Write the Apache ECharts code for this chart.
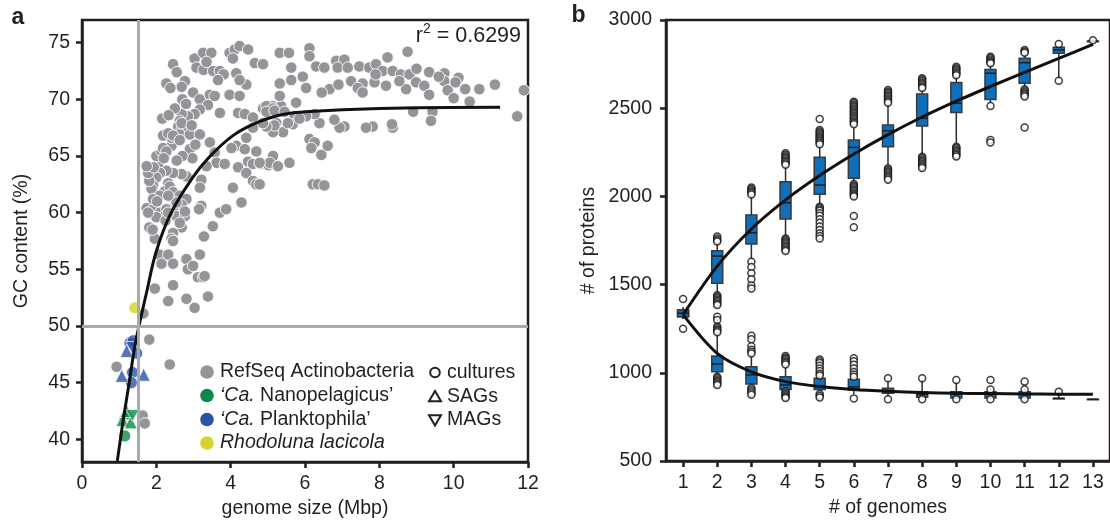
<!DOCTYPE html>
<html><head><meta charset="utf-8">
<script src="https://cdn.jsdelivr.net/npm/echarts@6/dist/echarts.min.js"></script>
<style>html,body{margin:0;padding:0;background:#fff}#c{width:1110px;height:528px}</style>
</head><body><div id="c"></div>
<script>
// ---------- Panel a data ----------
const refseqPoints = [
[2.45,73.1],[3.03,73.6],[3.26,74.1],[3.48,74.1],[3.08,72.8],[3.27,72.6],[3.53,72.5],[3.71,72.5],[3.81,72.2],[3.66,71.7],
[3.97,74.1],[4.11,74.4],[4.24,74.7],[4.47,74.4],[4.65,73.2],[4.87,73.1],[4.06,73.6],[4.42,71.3],[4.15,72.3],[4.24,71.7],
[2.77,71.6],[2.68,71.1],[2.99,70.6],[3.17,70.0],[3.44,70.4],[3.57,70.3],[3.39,69.5],[3.17,69.1],[3.03,68.7],[2.85,68.5],
[2.68,68.7],[2.63,68.1],[2.59,67.6],[2.68,67.3],[2.63,66.9],[2.90,66.9],[3.17,66.9],[3.71,68.8],[3.97,70.4],[4.24,70.3],
[4.20,68.8],[4.38,68.7],[4.60,68.4],[4.87,69.2],[5.14,69.4],[5.23,67.9],[4.96,67.6],[4.60,67.5],[4.42,66.6],[4.15,65.9],
[4.02,65.7],[4.38,65.6],[4.69,65.4],[4.47,64.5],[4.60,64.3],[4.80,64.3],[5.02,64.2],[5.23,64.2],[4.20,64.0],[4.42,63.5],
[4.60,62.8],[4.69,62.5],[4.29,60.9],[4.06,62.2],[3.44,66.2],[3.57,65.3],[3.21,62.9],[3.17,62.2],[3.21,60.6],[3.62,64.4],
[3.84,64.3],[3.35,64.1],[2.81,63.2],[2.68,63.4],[2.45,63.5],[2.27,63.7],[2.32,62.6],[2.23,61.9],[2.36,62.3],[2.45,61.8],
[2.63,61.5],[2.81,61.2],[2.68,60.7],[2.45,60.3],[2.54,59.7],[2.68,58.7],[2.45,58.2],[2.41,57.7],[2.77,59.7],[2.63,59.1],
[2.05,64.3],[2.10,63.5],[2.00,63.1],[1.91,62.4],[1.87,62.1],[1.81,62.8],[1.78,63.5],[2.00,65.0],[2.14,65.4],[2.41,65.9],
[2.41,66.6],[2.18,66.8],[2.32,67.0],[2.68,67.9],[2.16,68.3],[1.74,60.4],[1.91,60.3],[2.10,60.0],[2.27,60.3],[2.23,59.7],
[2.00,59.6],[1.87,58.5],[1.96,57.7],[2.45,57.5],[2.25,59.3],[2.32,60.0],[2.54,60.9],[2.77,60.1],[3.15,60.3],[3.28,57.9],
[3.52,58.8],[3.71,60.0],[3.88,60.3],[2.90,65.6],[2.97,64.8],[2.70,65.0],[2.27,71.4],[2.70,70.0],[1.93,64.0],[1.74,64.1],
[2.18,65.7],[2.27,65.4],[2.09,61.5],[2.32,61.5],[1.91,61.2],[1.78,60.0],[1.81,58.7],[1.90,58.5],[2.45,66.8],[2.63,66.4],
[2.08,56.3],[2.32,56.3],[2.14,55.5],[2.45,55.5],[2.81,55.9],[3.17,56.3],[2.85,55.0],[2.99,55.3],[3.12,54.3],[3.26,54.3],
[3.30,54.4],[2.45,53.6],[1.96,53.3],[2.32,52.2],[2.81,52.4],[3.03,51.6],[3.39,52.6],[1.65,51.1],[1.81,48.8],[0.93,46.4],
[2.36,46.6],[1.63,42.1],[1.69,41.4],
[5.32,74.1],[5.57,74.1],[6.12,74.5],[6.12,73.8],[6.30,72.9],[6.52,72.8],[6.84,73.4],[7.06,73.5],[6.88,72.8],[7.15,72.8],
[7.46,72.9],[7.73,72.8],[7.91,73.1],[8.22,73.7],[8.76,74.2],[8.09,72.5],[8.36,72.5],[8.58,72.2],[8.81,72.2],[9.34,72.4],
[9.75,72.3],[10.13,71.9],[8.99,71.5],[9.21,71.2],[9.34,70.4],[8.72,70.9],[8.54,71.6],[8.18,71.2],[7.87,71.5],[7.55,71.4],
[7.24,71.6],[7.42,71.0],[7.55,70.6],[6.66,70.9],[6.03,71.0],[5.94,72.0],[5.63,71.7],[5.32,71.4],[5.63,72.8],[4.87,73.1],
[9.75,71.6],[9.84,70.8],[10.0,70.1],[10.31,70.9],[10.69,70.9],[11.11,71.3],[10.43,69.8],[11.89,70.8],[11.71,68.5],[8.91,68.9],
[9.43,68.9],[9.39,68.1],[8.36,67.5],[8.34,67.8],[7.82,67.6],[7.64,67.5],[7.06,67.6],[6.93,67.5],[6.79,68.2],[6.39,67.9],
[6.26,68.7],[6.03,68.5],[5.72,68.5],[5.67,67.8],[5.41,67.1],[5.14,67.1],[5.18,67.7],[4.96,67.6],[5.36,69.4],[5.76,69.7],
[5.32,70.3],[4.96,69.4],[5.14,69.2],[6.12,66.5],[6.26,66.2],[6.17,65.7],[6.44,65.1],[6.61,65.9],[5.14,65.0],[5.05,64.4],
[5.27,64.1],[5.58,64.4],[4.78,64.4],[6.21,62.5],[6.35,62.5],[6.52,62.4],[4.78,62.5],[4.96,68.9],[5.18,69.0],[5.45,68.9],
[4.87,67.9],[5.54,67.9],[5.85,68.3],[6.45,70.6],[6.9,71.3],[7.9,72.2],[9.0,72.7],[9.6,72.0],[10.05,71.5],[3.35,73.3],
[2.55,72.4],[2.38,71.0],[2.50,69.2],[2.33,68.6],[2.80,69.6],[2.95,67.7],[3.05,66.0],[2.20,64.8],[2.55,64.6],[2.02,61.0]
];
const nanoCultures = [[1.15,40.3]];
const nanoSAGs = [[1.15,42.3],[1.09,41.7],[1.31,41.5],[1.20,42.5]];
const nanoMAGs = [[1.36,42.1]];
const plankCultures = [[1.29,48.5],[1.38,48.7],[1.47,47.6],[1.36,45.9],[1.33,45.0]];
const plankSAGs = [[1.20,47.8],[1.07,45.6],[1.66,45.7]];
const plankMAGs = [[1.35,48.1]];
const rhodolunaCultures = [[1.42,51.6]];
const fitX = [0.95,1.1,1.27,1.41,1.54,1.74,2.0,2.4,3.0,3.45,4.06,4.6,5.3,6.0,8.0,11.25];
const fitY = [38.1,41.5,45.0,48.0,50.1,53.0,56.6,60.0,63.2,65.0,66.8,67.8,68.6,68.9,69.2,69.3];
const gcTicks = [40,45,50,55,60,65,70,75];
const refGenomeSize = 1.5, refGC = 50;

// ---------- Panel b data ----------
const genomeCounts = ['1','2','3','4','5','6','7','8','9','10','11','12','13'];
// [low whisker, Q1, median, Q3, high whisker]
const panBoxes = [
[1305,1318,1338,1356,1370],[1450,1507,1662,1692,1736],[1643,1730,1794,1894,1998],[1772,1872,1964,2083,2168],
[1951,2012,2065,2222,2291],[2074,2103,2278,2320,2386],[2168,2282,2373,2405,2518],[2235,2399,2443,2580,2603],
[2282,2475,2528,2645,2675],[2530,2550,2698,2720,2745],[2613,2641,2758,2783,2811],[2665,2811,2830,2845,2850],
[2880,2880,2880,2880,2880]];
const panOutliers = [
[1418,1250],
[1772,1762,1752,1744,1440,1432,1424,1416,1408,1400,1392,1384],
[2051,2043,2035,2027,2019,2011,1630,1600,1565,1530,1495,1478],
[2244,2236,2228,2220,2212,2204,2196,2188,2180,1762,1754,1746,1738,1730,1722,1714,1706,1698,1690],
[2439,2376,2368,2360,2352,2344,2336,2328,2320,2312,2304,2296,1942,1934,1926,1918,1905,1890,1870,1850,1830,1810,1790,1775,1762],
[2537,2529,2521,2513,2505,2497,2489,2481,2473,2465,2457,2449,2441,2433,2425,2417,2409,2070,2062,2054,2046,2038,2030,2022,2014,2006,2000,1889,1825],
[2603,2595,2587,2579,2571,2563,2555,2547,2539,2531,2159,2151,2143,2135,2127,2119,2111,2103,2095],
[2670,2662,2654,2646,2638,2630,2622,2614,2225,2217,2209,2201,2193,2185,2177,2169,2161],
[2735,2727,2719,2711,2703,2695,2687,2282,2274,2266,2258,2250,2242,2234,2226],
[2792,2784,2776,2768,2760,2755,2512,2320,2305],
[2830,2822,2814,2607,2599,2591,2583,2575,2567,2390],
[2864,2655],
[2885]];
const coreBoxes = [
[1305,1318,1338,1356,1370],[987,1006,1050,1095,1224],[921,937,988,1035,1101],[900,906,931,978,1044],
[895,906,925,969,990],[880,902,920,963,975],[870,884,899,912,960],[855,861,878,893,960],
[855,857,880,893,950],[855,857,880,893,910],[855,857,880,893,910],[855,855,855,855,890],[850,850,850,850,850]];
const coreOutliers = [
[],
[1318,1300,1262,1254,1246,1238,1230,978,970,962,954,946,938,931],
[1210,1190,1150,1130,1120,1110,915,905,895,885,875],
[1095,1087,1079,1071,1063,1055,1047,895,887,879,871,863,857],
[1075,1065,1055,1040,1025,1010,995,985,880,870,860],
[1082,1065,1045,1025,1005,990,978,855],
[969,850],[969,850],[959,850],[959,905,850],[950,905,850],[893],[]];
const panFit = [1330,1605,1815,1980,2118,2240,2350,2450,2540,2623,2703,2782,2862];
const coreFit = [1330,1110,1005,950,922,905,895,888,884,882,880,879,878];

// ---------- styling ----------
const FONT = 'Liberation Sans, Arial, Helvetica, sans-serif';
const INK = '#231f20';
const FS = 19.5;
const GRAY = '#939598', GREEN = '#0c8a47', BLUE = '#2a53a6', YELLOW = '#d3d52c', BOXBLUE = '#0f6fbb';
const DOWN_TRI = 'path://M0,0L10,0L5,8.66Z';

function axisCommon(){
  return {
    axisLine:{show:true,onZero:false,lineStyle:{color:INK,width:2.5}},
    axisTick:{show:true,inside:false,length:6,lineStyle:{color:INK,width:2.5}},
    axisLabel:{color:INK,fontSize:FS,fontFamily:FONT},
    splitLine:{show:false},
    nameTextStyle:{color:INK,fontSize:FS,fontFamily:FONT}
  };
}
function merge(a,b){
  const o = Object.assign({},a);
  for (const k in b){ o[k] = (typeof b[k]==='object' && !Array.isArray(b[k]) && a[k]) ? Object.assign({},a[k],b[k]) : b[k]; }
  return o;
}

function grpData(arrC, arrS, arrM){
  const out = [];
  arrC.forEach(p=>out.push({value:p,symbol:'circle',symbolSize:12}));
  arrS.forEach(p=>out.push({value:p,symbol:'triangle',symbolSize:13}));
  arrM.forEach(p=>out.push({value:p,symbol:DOWN_TRI,symbolSize:[13,12]}));
  return out;
}

function boxRender(params, api){
  const i = api.value(0);
  const lo = api.coord([i, api.value(1)]);
  const q1 = api.coord([i, api.value(2)]);
  const md = api.coord([i, api.value(3)]);
  const q3 = api.coord([i, api.value(4)]);
  const hi = api.coord([i, api.value(5)]);
  const x = lo[0], w = 11;
  const st = {stroke:'#2b2b2b', lineWidth:1.5};
  return {type:'group', children:[
    {type:'line', shape:{x1:x,y1:hi[1],x2:x,y2:q3[1]}, style:st},
    {type:'line', shape:{x1:x,y1:q1[1],x2:x,y2:lo[1]}, style:st},
    {type:'rect', shape:{x:x-w/2,y:q3[1],width:w,height:Math.max(q1[1]-q3[1],0.5)}, style:{fill:BOXBLUE,stroke:'#3a3a3a',lineWidth:1.5}},
    {type:'line', shape:{x1:x-w/2,y1:md[1],x2:x+w/2,y2:md[1]}, style:{stroke:'#1d1d1d',lineWidth:1.5}}
  ]};
}
function boxData(boxes){ return boxes.map((b,i)=>[i].concat(b)); }
function outlierData(outs){ const d=[]; outs.forEach((arr,i)=>arr.forEach(v=>d.push([i,v]))); return d; }

const chart = echarts.init(document.getElementById('c'), null, {renderer:'canvas'});

const legendRows = [
  {color:GRAY, text:'RefSeq Actinobacteria', y:372},
  {color:GREEN, text:"{i|\u2018Ca.} Nanopelagicus\u2019", y:395.5},
  {color:BLUE, text:"{i|\u2018Ca.} Planktophila\u2019", y:419.5},
  {color:YELLOW, text:'{i|Rhodoluna lacicola}', y:443}
];
const shapeRows = [
  {shape:'circle', text:'cultures', y:372.5},
  {shape:'up', text:'SAGs', y:396.5},
  {shape:'down', text:'MAGs', y:420}
];
const graphics = [];
const richI = {i:{fontStyle:'italic',fontSize:FS,fontFamily:FONT,fill:INK}};
legendRows.forEach(r=>{
  graphics.push({type:'circle', shape:{cx:207,cy:r.y,r:6.8}, style:{fill:r.color}});
  graphics.push({type:'text', x:220, y:r.y, style:{text:r.text, fill:INK, fontSize:FS, fontFamily:FONT, verticalAlign:'middle', align:'left', rich:richI}});
});
shapeRows.forEach(r=>{
  if (r.shape==='circle') graphics.push({type:'circle', shape:{cx:435,cy:r.y,r:4.8}, style:{fill:'none',stroke:INK,lineWidth:2}});
  else if (r.shape==='up') graphics.push({type:'polygon', shape:{points:[[429,r.y+4.8],[441,r.y+4.8],[435,r.y-5.5]]}, style:{fill:'none',stroke:INK,lineWidth:2}});
  else graphics.push({type:'polygon', shape:{points:[[429,r.y-4.8],[441,r.y-4.8],[435,r.y+5.5]]}, style:{fill:'none',stroke:INK,lineWidth:2}});
  graphics.push({type:'text', x:447, y:r.y, style:{text:r.text, fill:INK, fontSize:FS, fontFamily:FONT, verticalAlign:'middle', align:'left'}});
});
graphics.push({type:'text', x:521, y:35, style:{text:'{r|r}{s|2}{r| = 0.6299}', align:'right', verticalAlign:'middle',
  rich:{r:{fontSize:21.5,fontFamily:FONT,fill:INK,lineHeight:25,verticalAlign:'bottom'}, s:{fontSize:14,fontFamily:FONT,fill:INK,verticalAlign:'top',lineHeight:25}}}});
graphics.push({type:'text', x:18, y:18, style:{text:'a', fontSize:23, fontWeight:'bold', fontFamily:FONT, fill:INK, align:'center', verticalAlign:'middle'}});
graphics.push({type:'text', x:578.5, y:16, style:{text:'b', fontSize:23, fontWeight:'bold', fontFamily:FONT, fill:INK, align:'center', verticalAlign:'middle'}});

const option = {
  animation:false,
  backgroundColor:'#fff',
  textStyle:{fontFamily:FONT},
  grid:[
    {left:82, top:20, width:446, height:442, show:true, borderColor:INK, borderWidth:2.5, backgroundColor:'transparent'},
    {left:666, top:20, width:445, height:441, show:true, borderColor:INK, borderWidth:2.5, backgroundColor:'transparent'}
  ],
  xAxis:[
    merge(axisCommon(), {gridIndex:0, type:'value', min:0, max:12, interval:2,
      axisLabel:{margin:12, showMinLabel:true, showMaxLabel:true},
      name:'genome size (Mbp)', nameLocation:'middle', nameGap:29}),
    merge(axisCommon(), {gridIndex:1, type:'category', data:genomeCounts, boundaryGap:true,
      axisTick:{alignWithLabel:true}, axisLabel:{margin:12, interval:0},
      name:'# of genomes', nameLocation:'middle', nameGap:29})
  ],
  yAxis:[
    merge(axisCommon(), {gridIndex:0, type:'value', min:38, max:77,
      axisTick:{customValues:gcTicks}, axisLabel:{customValues:gcTicks, margin:12},
      name:'GC content (%)', nameLocation:'middle', nameGap:50}),
    merge(axisCommon(), {gridIndex:1, type:'value', min:500, max:3000, interval:500,
      axisLabel:{margin:14, formatter:function(v){return String(v);}},
      name:'# of proteins', nameLocation:'middle', nameGap:67})
  ],
  graphic: graphics,
  series:[
    {type:'line', xAxisIndex:0, yAxisIndex:0, data:[], silent:true, z:1,
      markLine:{silent:true, symbol:['none','none'], label:{show:false},
        lineStyle:{color:'#a7a9ac', width:3, type:'solid'},
        data:[{xAxis:refGenomeSize},{yAxis:refGC}]}},
    {type:'scatter', name:'RefSeq Actinobacteria', xAxisIndex:0, yAxisIndex:0, z:2,
      symbol:'circle', symbolSize:11.5, data:refseqPoints,
      itemStyle:{color:GRAY, borderColor:'#fff', borderWidth:0.9, opacity:1}},
    {type:'scatter', name:"\u2018Ca. Nanopelagicus\u2019", xAxisIndex:0, yAxisIndex:0, z:3,
      data:grpData(nanoCultures,nanoSAGs,nanoMAGs), itemStyle:{color:GREEN,borderColor:'#fff',borderWidth:0.9}},
    {type:'scatter', name:"\u2018Ca. Planktophila\u2019", xAxisIndex:0, yAxisIndex:0, z:3,
      data:grpData(plankCultures,plankSAGs,plankMAGs), itemStyle:{color:BLUE,borderColor:'#fff',borderWidth:0.9}},
    {type:'scatter', name:'Rhodoluna lacicola', xAxisIndex:0, yAxisIndex:0, z:3,
      data:grpData(rhodolunaCultures,[],[]), itemStyle:{color:YELLOW,borderColor:'#fff',borderWidth:0.9}},
    {type:'line', xAxisIndex:0, yAxisIndex:0, z:4, smooth:0.4, showSymbol:false, symbol:'none',
      data:fitX.map((x,i)=>[x,fitY[i]]), lineStyle:{color:'#111',width:3}},

    {type:'custom', xAxisIndex:1, yAxisIndex:1, z:2, renderItem:boxRender, data:boxData(panBoxes),
      encode:{x:0,y:[1,2,3,4,5]}},
    {type:'custom', xAxisIndex:1, yAxisIndex:1, z:2, renderItem:boxRender, data:boxData(coreBoxes),
      encode:{x:0,y:[1,2,3,4,5]}},
    {type:'scatter', xAxisIndex:1, yAxisIndex:1, z:3, symbol:'circle', symbolSize:7,
      data:outlierData(panOutliers).concat(outlierData(coreOutliers)),
      itemStyle:{color:'#fff', borderColor:'#111', borderWidth:1.5}},
    {type:'line', xAxisIndex:1, yAxisIndex:1, z:4, smooth:0.3, showSymbol:false, symbol:'none',
      data:panFit, lineStyle:{color:'#111',width:3}},
    {type:'line', xAxisIndex:1, yAxisIndex:1, z:4, smooth:0.3, showSymbol:false, symbol:'none',
      data:coreFit, lineStyle:{color:'#111',width:3}}
  ]
};
chart.setOption(option);
</script></body></html>
